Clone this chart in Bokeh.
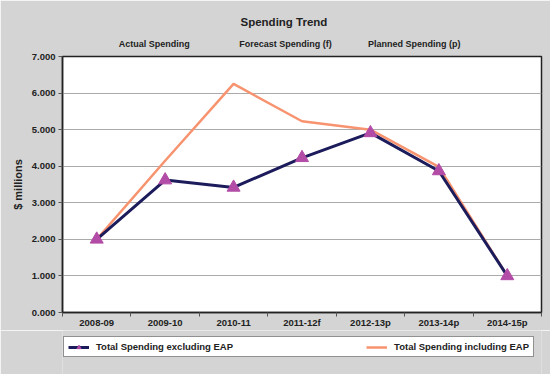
from bokeh.plotting import figure
from bokeh.layouts import column
from bokeh.models import (Range1d, FixedTicker, NumeralTickFormatter, Legend, LegendItem,
                          LinearAxis, Title)
from bokeh.embed import file_html
from bokeh.resources import INLINE

years = ["2008-09", "2009-10", "2010-11", "2011-12f", "2012-13p", "2013-14p", "2014-15p"]
excl = [2.00, 3.62, 3.42, 4.23, 4.91, 3.87, 1.00]
incl = [2.00, 4.15, 6.25, 5.23, 5.00, 3.98, 1.00]
y_ticks = [0, 1, 2, 3, 4, 5, 6, 7]
phases = ["Actual Spending", "Forecast Spending (f)", "Planned Spending (p)"]
title_text = "Spending Trend"
y_label = "$ millions"
legend_labels = ["Total Spending excluding EAP", "Total Spending including EAP"]

FONT = "Liberation Sans"
BG = "#d4d4d4"
TXT = "#222222"
C_EXCL = "#1c1c5c"
C_INCL = "#f7936f"
C_MARK = "#b24ca6"

xpos = [i + 0.5 for i in range(len(years))]
phase_pos = [1.34, 3.26, 5.14]

fig = figure(width=550, height=330, output_backend="svg", toolbar_location=None,
             x_range=Range1d(0, len(years)), y_range=Range1d(0, 7),
             min_border_left=62, min_border_right=9, min_border_top=56, min_border_bottom=17)
fig.border_fill_color = BG
fig.background_fill_color = "white"
fig.outline_line_color = "#222222"
fig.outline_line_width = 1.5

fig.line(xpos, incl, line_color=C_INCL, line_width=2.5)
fig.line(xpos, excl, line_color=C_EXCL, line_width=3)
fig.scatter(xpos, excl, marker="triangle", size=13, fill_color=C_MARK, line_color=C_MARK)

xa = fig.xaxis[0]
xa.ticker = FixedTicker(ticks=xpos, minor_ticks=list(range(len(years) + 1)))
xa.major_label_overrides = {x: y for x, y in zip(xpos, years)}
xa.major_tick_out = 0
xa.major_tick_in = 0
xa.minor_tick_out = 4
xa.minor_tick_in = 0
xa.minor_tick_line_color = "#555555"
xa.axis_line_color = "#222222"
xa.axis_line_width = 1.5
xa.major_label_standoff = 0
xa.major_label_text_font = FONT
xa.major_label_text_font_style = "bold"
xa.major_label_text_font_size = "9.5px"
xa.major_label_text_color = TXT

ya = fig.yaxis[0]
ya.ticker = FixedTicker(ticks=y_ticks)
ya.formatter = NumeralTickFormatter(format="0.000")
ya.major_tick_out = 4
ya.major_tick_in = 0
ya.minor_tick_line_color = None
ya.major_tick_line_color = "#555555"
ya.axis_line_color = "#222222"
ya.axis_line_width = 1.5
ya.major_label_standoff = 3
ya.major_label_text_font = FONT
ya.major_label_text_font_style = "bold"
ya.major_label_text_font_size = "9.5px"
ya.major_label_text_color = TXT
ya.axis_label = y_label
ya.axis_label_text_font = FONT
ya.axis_label_text_font_style = "bold"
ya.axis_label_text_font_size = "11px"
ya.axis_label_text_color = TXT
ya.axis_label_standoff = 5

fig.xgrid.grid_line_color = None
fig.ygrid.grid_line_color = "#aaaaaa"
fig.ygrid.grid_line_width = 1

# phase labels as an axis above the frame
top_axis = LinearAxis(ticker=FixedTicker(ticks=phase_pos, minor_ticks=[]),
                      major_label_overrides={x: t for x, t in zip(phase_pos, phases)})
top_axis.axis_line_color = None
top_axis.major_tick_line_color = None
top_axis.minor_tick_line_color = None
top_axis.major_tick_out = 0
top_axis.major_tick_in = 0
top_axis.major_label_standoff = 8
top_axis.major_label_text_font = FONT
top_axis.major_label_text_font_style = "bold"
top_axis.major_label_text_font_size = "9px"
top_axis.major_label_text_color = TXT
fig.add_layout(top_axis, "above")

fig.title = Title(text=title_text, align="left", offset=178, standoff=16,
                  text_font=FONT, text_font_style="bold", text_font_size="11.5px",
                  text_color=TXT)

# legend strip (its own renderers sit outside the visible ranges, only the legend shows)
leg_fig = figure(width=550, height=44, output_backend="svg", toolbar_location=None,
                 x_axis_location=None, y_axis_location=None,
                 x_range=Range1d(100, 101), y_range=Range1d(100, 101),
                 min_border_left=62, min_border_right=9, min_border_top=0, min_border_bottom=0)
leg_fig.border_fill_color = BG
leg_fig.background_fill_color = BG
leg_fig.outline_line_color = None
leg_fig.grid.grid_line_color = None
r_excl = leg_fig.line(xpos, excl, line_color=C_EXCL, line_width=3)
r_mark = leg_fig.scatter(xpos, excl, marker="triangle", size=7, fill_color=C_MARK,
                         line_color=C_MARK)
r_incl = leg_fig.line(xpos, incl, line_color=C_INCL, line_width=2.5)

legend = Legend(items=[LegendItem(label=legend_labels[0], renderers=[r_excl, r_mark]),
                       LegendItem(label=legend_labels[1], renderers=[r_incl])],
                orientation="horizontal", location=(1, 17))
legend.label_text_font = FONT
legend.label_text_font_style = "bold"
legend.label_text_font_size = "9.5px"
legend.label_text_color = TXT
legend.border_line_color = "#222222"
legend.border_line_width = 1.5
legend.background_fill_color = "white"
legend.background_fill_alpha = 1
legend.padding = 4
legend.margin = 0
legend.spacing = 133
legend.glyph_width = 21
legend.glyph_height = 10
legend.label_height = 10
legend.label_standoff = 7
leg_fig.add_layout(legend, "center")

p = column(fig, leg_fig, spacing=0)

open("out.html", "w").write(file_html(p, INLINE))
